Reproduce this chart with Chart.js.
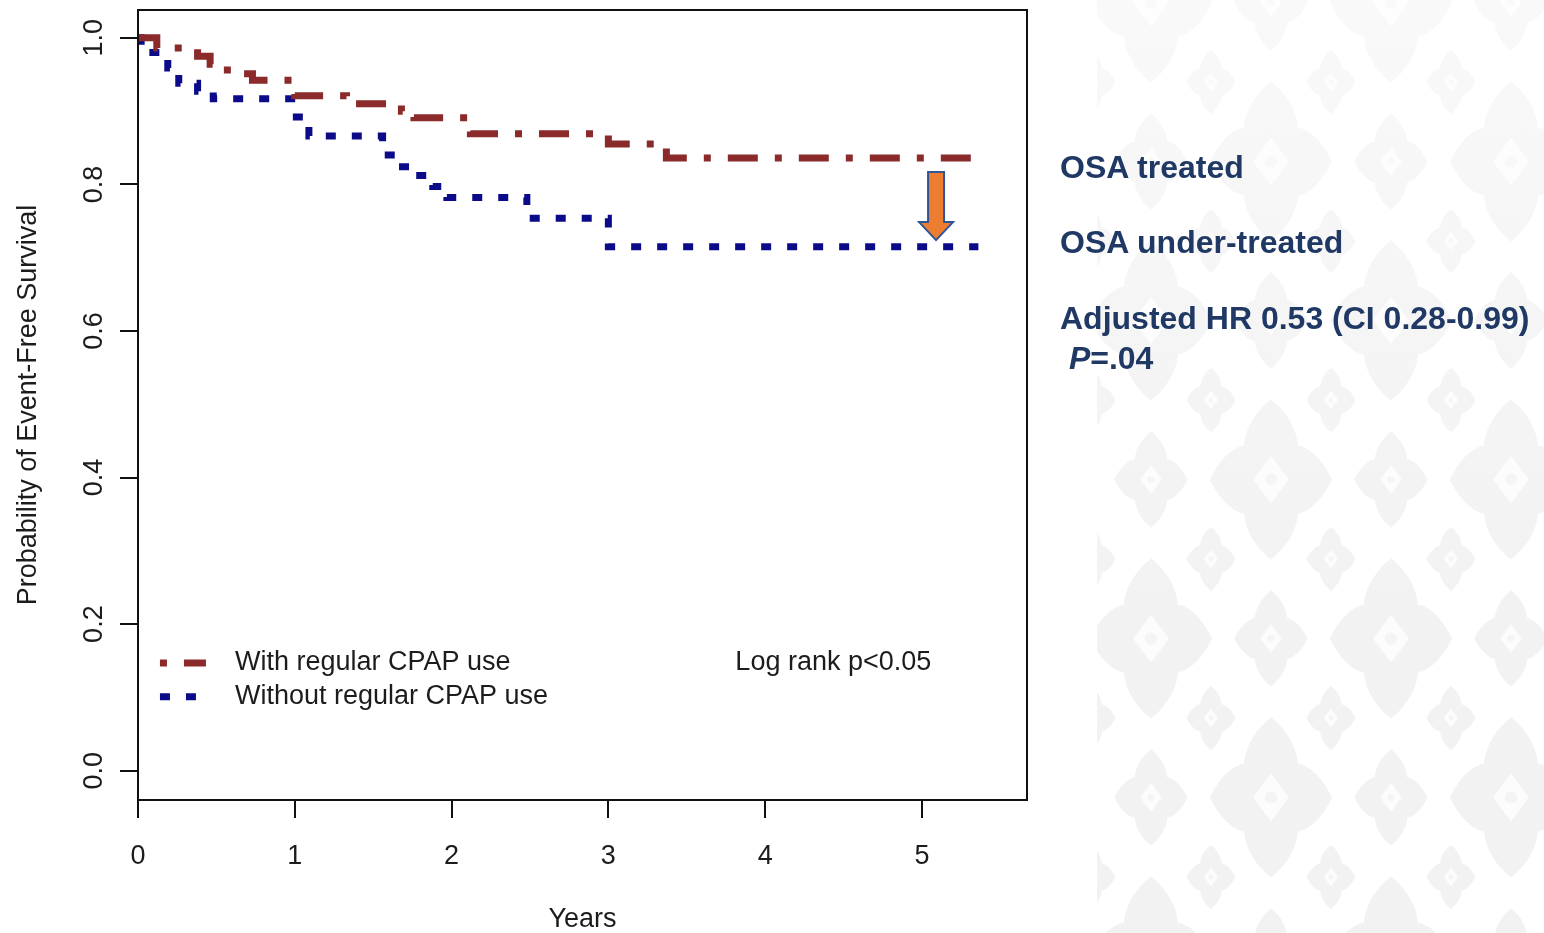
<!DOCTYPE html>
<html>
<head>
<meta charset="utf-8">
<script src="https://cdn.jsdelivr.net/npm/chart.js@4.4.0/dist/chart.umd.min.js"></script>
<style>
html, body { margin: 0; padding: 0; background: #fff; }
body { width: 1544px; height: 933px; position: relative; overflow: hidden; font-family: "Liberation Sans", Arial, sans-serif; }
#bg { position: absolute; left: 1097px; top: 0; width: 447px; height: 933px; }
#wrap { position: absolute; left: 0; top: 0; width: 1097px; height: 933px; background: #fff; }
.note { position: absolute; left: 1060px; font-weight: bold; font-size: 32px; line-height: 32px; color: #1f3864; white-space: nowrap; }
</style>
</head>
<body>
<div id="bg"></div>
<div id="wrap"><canvas id="km" width="1097" height="933"></canvas></div>
<div class="note" style="top:151px">OSA treated</div>
<div class="note" style="top:226px">OSA under-treated</div>
<div class="note" style="top:302px">Adjusted HR 0.53 (CI 0.28-0.99)</div>
<div class="note" style="top:342px">&nbsp;<i>P</i>=.04</div>
<script>
// Kaplan-Meier steps
const yearsWith = [0, 0.12, 0.38, 0.46, 0.57, 0.73, 1.00, 1.33, 1.68, 1.76, 2.12, 3.00, 3.37, 5.36];
const survWith  = [1.000, 0.986, 0.975, 0.964, 0.951, 0.942, 0.921, 0.910, 0.900, 0.891, 0.869, 0.855, 0.836, 0.836];
const yearsWithout = [0, 0.02, 0.19, 0.26, 0.38, 0.48, 1.01, 1.09, 1.56, 1.64, 1.76, 1.88, 1.97, 2.48, 3.00, 5.36];
const survWithout  = [1.000, 0.980, 0.959, 0.938, 0.927, 0.917, 0.892, 0.866, 0.840, 0.824, 0.812, 0.797, 0.782, 0.754, 0.715, 0.715];
const seriesNames = ['With regular CPAP use', 'Without regular CPAP use'];
const xTicks = [0, 1, 2, 3, 4, 5];
const yTicks = [0, 0.2, 0.4, 0.6, 0.8, 1.0];
const testNote = 'Log rank p<0.05';

const FONT = '"Liberation Sans", Arial, sans-serif';
const INK = '#1c1c1c';
const RED = '#8b2a2a', BLUE = '#0b0b8a';
const RED_DASH = [30, 17, 7, 17], BLUE_DASH = [10, 16];

// faint slide pattern on the right
(function () {
  const petal = (cx, cy, ux, uy, L, W) => {
    const vx = -uy, vy = ux;
    const p = (a, b) => (cx + ux * a + vx * b).toFixed(1) + ',' + (cy + uy * a + vy * b).toFixed(1);
    return 'M' + p(0, 0) + 'C' + p(L * 0.1, W * 1.35) + ' ' + p(L * 0.7, W * 1.05) + ' ' + p(L, 0) +
      'C' + p(L * 0.7, -W * 1.05) + ' ' + p(L * 0.1, -W * 1.35) + ' ' + p(0, 0) + 'Z';
  };
  const flower = (cx, cy, s) => {
    const d = petal(cx, cy, 0, -1, 80 * s, 30 * s) + petal(cx, cy, 0, 1, 80 * s, 30 * s) +
              petal(cx, cy, -1, 0, 61 * s, 38 * s) + petal(cx, cy, 1, 0, 61 * s, 38 * s);
    const w = (18 * s).toFixed(1), h = (24 * s).toFixed(1);
    return '<path d="' + d + '" fill="#f2f2f2"/>' +
      '<path d="M' + cx + ',' + (cy - h) + 'L' + (cx + +w) + ',' + cy + 'L' + cx + ',' + (cy + +h) + 'L' + (cx - w) + ',' + cy + 'Z" fill="#fcfcfc"/>' +
      '<circle cx="' + cx + '" cy="' + cy + '" r="' + (6 * s) + '" fill="#f4f4f4"/>';
  };
  let svg = '<svg xmlns="http://www.w3.org/2000/svg" width="240" height="318">';
  for (let b = -2; b <= 3; b++) {
    for (let a = -3; a <= 3; a++) {
      const lx = 120 + 240 * a + 120 * b, ly = 79.5 + 159 * b;
      if (lx > -90 && lx < 330 && ly > -90 && ly < 408) svg += flower(lx, ly, 1);
      const sx = lx - 120;
      if (sx > -90 && sx < 330 && ly > -90 && ly < 408) svg += flower(sx, ly, 0.6);
      const tx = 60 + 120 * a, ty = 159 * b;
      if (tx > -90 && tx < 330 && ty > -90 && ty < 408) svg += flower(tx, ty, 0.4);
    }
  }
  svg += '</svg>';
  const bg = document.getElementById('bg').style;
  bg.backgroundImage = 'linear-gradient(rgba(255,255,255,0.55), rgba(255,255,255,0.15) 45%, rgba(255,255,255,0) 70%), ' +
    'url("data:image/svg+xml;utf8,' + encodeURIComponent(svg) + '")';
  bg.backgroundSize = '100% 100%, 240px 318px';
  bg.backgroundPosition = '0 0, 54px 82px';
  bg.backgroundRepeat = 'no-repeat, repeat';
})();

const extras = {
  id: 'extras',
  afterDatasetsDraw(chart) {
    const ctx = chart.ctx, xs = chart.scales.x, ys = chart.scales.y, a = chart.chartArea;
    ctx.save();
    // box
    ctx.strokeStyle = '#111'; ctx.lineWidth = 2;
    ctx.strokeRect(a.left, a.top, a.right - a.left, a.bottom - a.top);
    // rotated y tick labels
    ctx.fillStyle = INK; ctx.font = '27px ' + FONT;
    ctx.textAlign = 'center'; ctx.textBaseline = 'middle';
    ys.ticks.forEach(t => {
      ctx.save();
      ctx.translate(a.left - 43, ys.getPixelForValue(t.value));
      ctx.rotate(-Math.PI / 2);
      ctx.fillText(t.value.toFixed(1), 0, 0);
      ctx.restore();
    });
    // legend inside the plot
    const lx = xs.getPixelForValue(0.14);
    const rows = [ys.getPixelForValue(0.147), ys.getPixelForValue(0.101)];
    chart.data.datasets.forEach((ds, i) => {
      ctx.save();
      ctx.strokeStyle = ds.borderColor; ctx.lineWidth = ds.borderWidth;
      ctx.setLineDash(ds.borderDash);
      ctx.lineDashOffset = i === 0 ? 47 : 0;
      ctx.beginPath(); ctx.moveTo(lx, rows[i]); ctx.lineTo(lx + 46, rows[i]); ctx.stroke();
      ctx.restore();
      ctx.textAlign = 'left';
      ctx.fillText(ds.label, lx + 75, rows[i]);
    });
    ctx.fillText(testNote, xs.getPixelForValue(3.81), rows[0]);
    // orange arrow between the curves
    const cx = xs.getPixelForValue(5.09);
    const top = ys.getPixelForValue(0.817), tip = ys.getPixelForValue(0.724);
    const headTop = tip - 18;
    ctx.beginPath();
    ctx.moveTo(cx - 8, top); ctx.lineTo(cx + 8, top); ctx.lineTo(cx + 8, headTop);
    ctx.lineTo(cx + 17, headTop); ctx.lineTo(cx, tip); ctx.lineTo(cx - 17, headTop);
    ctx.lineTo(cx - 8, headTop); ctx.closePath();
    ctx.fillStyle = '#ed7d31'; ctx.fill();
    ctx.strokeStyle = '#2f5597'; ctx.lineWidth = 2; ctx.stroke();
    ctx.restore();
  }
};

const toPts = (xs, ys) => xs.map((x, i) => ({ x: x, y: ys[i] }));

new Chart(document.getElementById('km'), {
  type: 'line',
  data: {
    datasets: [
      { label: seriesNames[0], data: toPts(yearsWith, survWith), borderColor: RED, borderWidth: 7,
        borderDash: RED_DASH, borderCapStyle: 'butt', stepped: 'before', pointRadius: 0, fill: false },
      { label: seriesNames[1], data: toPts(yearsWithout, survWithout), borderColor: BLUE, borderWidth: 7,
        borderDash: BLUE_DASH, borderCapStyle: 'butt', stepped: 'before', pointRadius: 0, fill: false }
    ]
  },
  options: {
    responsive: false,
    animation: false,
    layout: { padding: { top: 10, right: 70, left: 0, bottom: 0 } },
    plugins: { legend: { display: false }, tooltip: { enabled: false } },
    scales: {
      x: {
        type: 'linear', min: 0, max: 5.67,
        afterBuildTicks: s => { s.ticks = xTicks.map(v => ({ value: v })); },
        afterFit: s => { s.height = 133; s.paddingLeft = 0; s.paddingRight = 0; },
        grid: { drawOnChartArea: false, drawTicks: true, tickLength: 18, color: '#111', lineWidth: 2 },
        border: { display: true, color: '#111', width: 2 },
        ticks: { color: INK, font: { family: FONT, size: 27 }, padding: 22, maxRotation: 0 },
        title: { display: true, text: 'Years', color: INK, font: { family: FONT, size: 27 }, padding: { top: 0, bottom: -3 } }
      },
      y: {
        type: 'linear', min: -0.04, max: 1.038,
        afterBuildTicks: s => { s.ticks = yTicks.map(v => ({ value: v })); },
        afterFit: s => { s.width = 138; s.paddingTop = 0; s.paddingBottom = 0; },
        grid: { drawOnChartArea: false, drawTicks: true, tickLength: 18, color: '#111', lineWidth: 2 },
        border: { display: true, color: '#111', width: 2 },
        ticks: { display: false },
        title: { display: true, text: 'Probability of Event-Free Survival', color: INK,
                 font: { family: FONT, size: 27 }, padding: { top: 12, bottom: 0 } }
      }
    }
  },
  plugins: [extras]
});
</script>
</body>
</html>
